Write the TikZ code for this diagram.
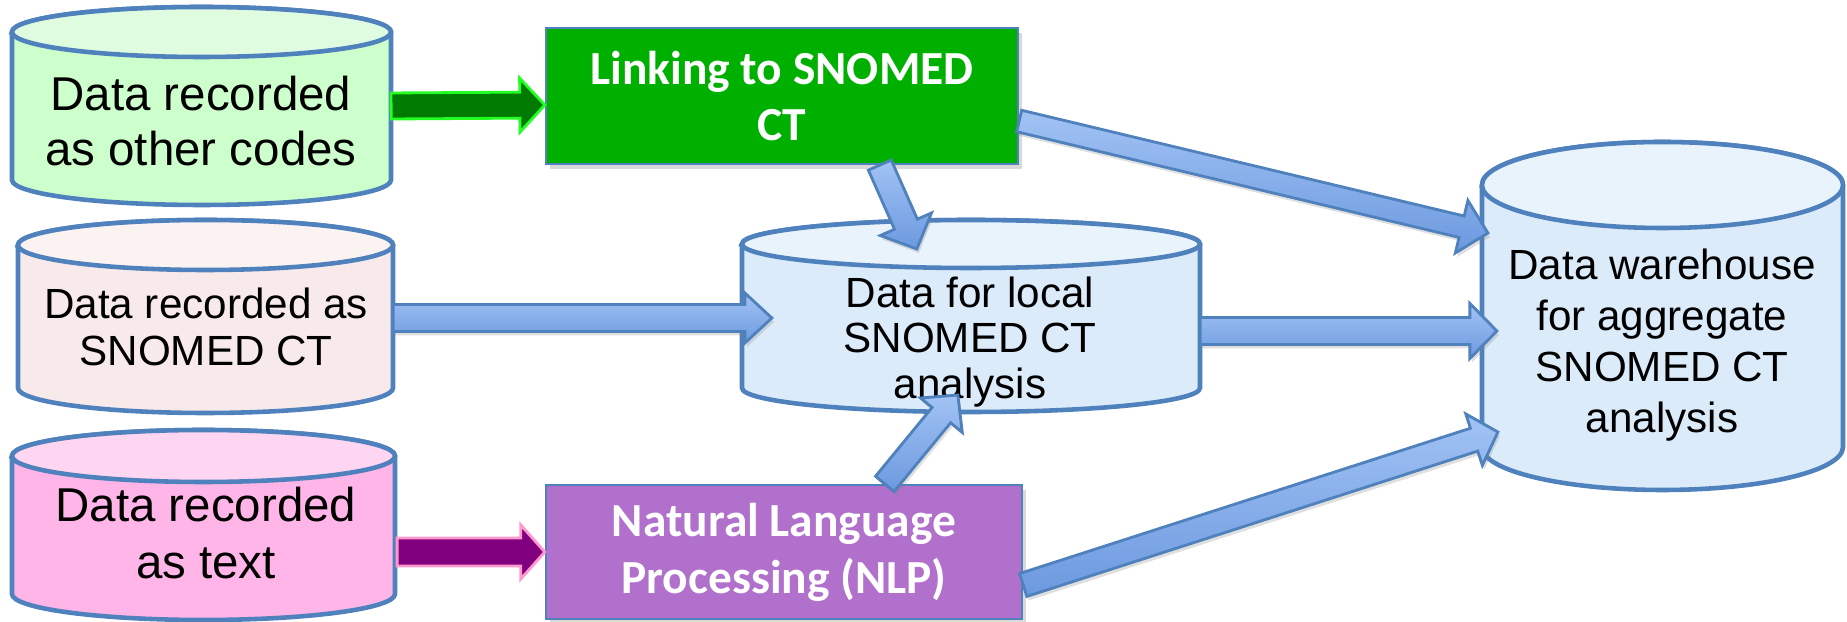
\documentclass[tikz,border=0pt]{standalone}
\usepackage{fontspec}
\setmainfont{Liberation Sans}
\newfontfamily\boxfont{Carlito}
\usetikzlibrary{calc,shadows}
\definecolor{cylborder}{HTML}{4F81BD}
\definecolor{greenbody}{HTML}{CCFFCC}
\definecolor{greentop}{HTML}{E0FCE0}
\definecolor{rosebody}{HTML}{F8EAEA}
\definecolor{rosetop}{HTML}{FBF3F2}
\definecolor{pinkbody}{HTML}{FFB5E7}
\definecolor{pinktop}{HTML}{FFD6F2}
\definecolor{bluebody}{HTML}{DCEBF9}
\definecolor{bluetop}{HTML}{E9F3FC}
\definecolor{boxgreen}{HTML}{00B000}
\definecolor{boxpurple}{HTML}{B070CC}
\definecolor{arrgreen}{HTML}{007A00}
\definecolor{arrgreenline}{HTML}{22FF22}
\definecolor{arrpurple}{HTML}{800080}
\definecolor{arrpurpleline}{HTML}{FF99CC}
\definecolor{arrbluetop}{HTML}{A2C3F4}
\definecolor{arrbluebot}{HTML}{6C99DF}

% cylinder body: #1 xl, #2 xr, #3 y of top centre, #4 y of bottom centre, #5 ry (px), #6 body, #7 top
\newcommand\drawcyl[7]{%
  \pgfmathsetmacro\cylrx{(#2-#1)/2*0.01}%
  \pgfmathsetmacro\cylry{#5*0.01}%
  \path[fill=#6, draw=cylborder, line width=1.3pt]
    (#1,#3) -- (#1,#4) arc[start angle=180, end angle=360, x radius=\cylrx cm, y radius=\cylry cm]
    -- (#2,#3) arc[start angle=0, end angle=180, x radius=\cylrx cm, y radius=\cylry cm] -- cycle;
  \path[fill=#7, draw=cylborder, line width=1.3pt]
    ({(#1+#2)/2},#3) ellipse[x radius=\cylrx cm, y radius=\cylry cm];
}

% block arrow: #1 style, #2 start, #3 tip, #4 shaft half width, #5 head half width, #6 head length
\newcommand\blockarrow[6]{%
  \coordinate (baA) at #2;
  \coordinate (baB) at #3;
  \coordinate (baH) at ($(baB)!#6!(baA)$);
  \path[#1] ($(baA)!#4!90:(baB)$) -- ($(baH)!#4!90:(baB)$) -- ($(baH)!#5!90:(baB)$)
    -- (baB) -- ($(baH)!#5!-90:(baB)$) -- ($(baH)!#4!-90:(baB)$) -- ($(baA)!#4!-90:(baB)$) -- cycle;
}

\tikzset{
  cylarea/.style={inner sep=0pt, outer sep=0pt},
  cyltext/.style={align=center, inner sep=0pt},
  procbox/.style={draw=cylborder, line width=0.6pt, inner sep=0pt, text=white, align=center,
    font=\boxfont\bfseries\fontsize{13.5}{16.2}\selectfont,
    drop shadow={shadow xshift=0.04cm, shadow yshift=-0.05cm, opacity=0.3}},
  bluearrow/.style={top color=arrbluetop, bottom color=arrbluebot, draw=cylborder, line width=0.8pt,
    drop shadow={shadow xshift=0.02cm, shadow yshift=-0.04cm, opacity=0.25}},
  greenarrow/.style={fill=arrgreen, draw=arrgreenline, line width=0.8pt},
  purplearrow/.style={fill=arrpurple, draw=arrpurpleline, line width=0.8pt},
}

\begin{document}
\begin{tikzpicture}[x=0.01cm, y=-0.01cm]
\useasboundingbox (0,0) rectangle (1847,622);

% cylinders
\drawcyl{12}{391}{32}{180}{25}{greenbody}{greentop}
\node[cylarea, minimum width=3.79cm, minimum height=1.98cm] (cyl1) at (201.5,106) {};
\node[cyltext, font=\fontsize{13.5}{15.6}\selectfont] (t1) at (201,121) {Data recorded\\as other codes};

\drawcyl{18}{393}{245}{388}{25}{rosebody}{rosetop}
\node[cylarea, minimum width=3.75cm, minimum height=1.93cm] (cyl2) at (205.5,316.5) {};
\node[cyltext, font=\fontsize{12}{13.6}\selectfont] (t2) at (206,327) {Data recorded as\\SNOMED CT};

\drawcyl{742}{1200}{244}{388}{24}{bluebody}{bluetop}
\node[cylarea, minimum width=4.58cm, minimum height=1.92cm] (cyl3) at (971,316) {};
\node[cyltext, font=\fontsize{12}{13}\selectfont] (t3) at (970,342) {Data for local\\SNOMED CT\\analysis};

\drawcyl{12}{395}{456}{594}{26}{pinkbody}{pinktop}
\node[cylarea, minimum width=3.83cm, minimum height=1.89cm] (cyl4) at (203.5,524.5) {};
\node[cyltext, font=\fontsize{13.5}{16.2}\selectfont] (t4) at (206,533) {Data recorded\\as text};

\drawcyl{1482}{1843}{185}{447}{43}{bluebody}{bluetop}
\node[cylarea, minimum width=3.61cm, minimum height=3.48cm] (cyl5) at (1662.5,316) {};
\node[cyltext, font=\fontsize{12}{14.5}\selectfont] (t5) at (1662,345) {Data warehouse\\for aggregate\\SNOMED CT\\analysis};

% process boxes
\node[procbox, fill=boxgreen, minimum width=4.72cm, minimum height=1.36cm] (gbox) at (782,96) {Linking to SNOMED\\CT};
\node[procbox, fill=boxpurple, minimum width=4.76cm, minimum height=1.34cm] (pbox) at (784,552) {Natural Language\\Processing (NLP)};

% coloured input arrows
\blockarrow{greenarrow}{(cyl1.east)}{($(gbox.west)+(0,9)$)}{0.13cm}{0.27cm}{0.25cm}
\blockarrow{purplearrow}{($(cyl4.east)+(2,27.5)$)}{(pbox.west)}{0.14cm}{0.27cm}{0.24cm}

% blue arrows
\blockarrow{bluearrow}{($(cyl2.east)+(0,1.5)$)}{($(cyl3.west)+(30,2)$)}{0.135cm}{0.25cm}{0.27cm}
\blockarrow{bluearrow}{($(gbox.south west)+(335,0)$)}{($(cyl3.north west)+(175,29)$)}{0.125cm}{0.28cm}{0.27cm}
\blockarrow{bluearrow}{($(pbox.north west)+(340,0)$)}{($(cyl3.south west)+(216,-17)$)}{0.12cm}{0.27cm}{0.26cm}
\blockarrow{bluearrow}{($(gbox.east)+(0,25)$)}{($(cyl5.west)+(6,-83)$)}{0.11cm}{0.27cm}{0.27cm}
\blockarrow{bluearrow}{($(cyl3.east)+(0,15)$)}{($(cyl5.west)+(15,15)$)}{0.135cm}{0.275cm}{0.27cm}
\blockarrow{bluearrow}{($(pbox.east)+(0,33)$)}{($(cyl5.west)+(16,116)$)}{0.12cm}{0.27cm}{0.25cm}
\end{tikzpicture}
\end{document}
